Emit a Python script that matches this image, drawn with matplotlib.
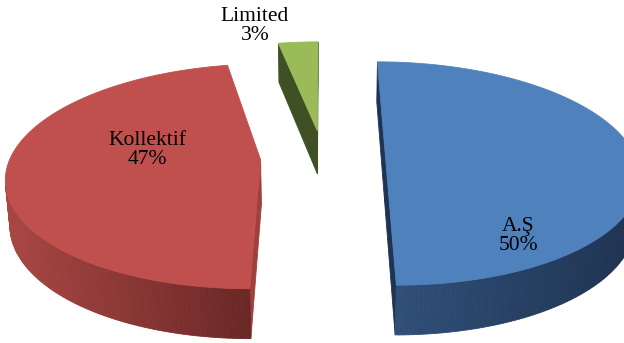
import numpy as np
import matplotlib.pyplot as plt
from matplotlib.patches import Polygon
from matplotlib.colors import to_rgb

# company types and their share of the total
labels = ['A.Ş', 'Kollektif', 'Limited']
shares = [50, 47, 3]

top_colors = ['#4f81bd', '#c0504d', '#9bbb59']
wall_light = ['#304f77', '#a94643', '#5a7031']
wall_dark = ['#1e3250', '#6a2826', '#3d4c22']
cut_colors = ['#1f3453', '#a0403d', '#3f5024']

# label anchors (pixels)
label_xy = [(518, 236), (147, 150), (255, 26)]

# simple perspective camera for the 3-D pie
CX, CY = 323, 157
FOCAL = 1520.0
DIST = 6.08
ELEV = np.radians(25.9)
THICK = 0.2
EXPLODE = 0.25

cos_e, sin_e = np.cos(ELEV), np.sin(ELEV)
camera = np.array([0.0, -DIST * cos_e, DIST * sin_e])


def project(X, Y, Z):
    v = Y * sin_e + Z * cos_e
    w = Y * cos_e - Z * sin_e + DIST
    return CX + FOCAL * X / w, CY - FOCAL * v / w


def facing(point, normal):
    return np.dot(camera - point, normal) > 0


def poly(ax, xs, ys, color, z):
    pts = np.column_stack([xs, ys])
    ax.add_patch(Polygon(pts, closed=True, facecolor=color, edgecolor=color,
                         linewidth=0.6, zorder=z))


fig = plt.figure(figsize=(6.24, 3.43), dpi=100)
ax = fig.add_axes([0, 0, 1, 1])
ax.set_xlim(0, 624)
ax.set_ylim(343, 0)
ax.axis('off')

fracs = np.array(shares, dtype=float) / sum(shares)
edges = np.concatenate([[0], np.cumsum(fracs)]) * 2 * np.pi

slices = []
for i in range(len(shares)):
    a0, a1 = edges[i], edges[i + 1]
    mid = (a0 + a1) / 2
    ox, oy = EXPLODE * np.sin(mid), EXPLODE * np.cos(mid)
    slices.append((i, a0, a1, ox, oy))

# far slices first
slices.sort(key=lambda s: -s[4])

z = 1
for i, a0, a1, ox, oy in slices:
    n = max(int(200 * (a1 - a0) / np.pi), 8)
    th = np.linspace(a0, a1, n)
    rx, ry = ox + np.sin(th), oy + np.cos(th)
    centre = np.array([ox, oy, 0.0])

    # radial cut faces
    for ang, sign in ((a0, -1), (a1, 1)):
        normal = sign * np.array([np.cos(ang), -np.sin(ang), 0.0])
        if facing(centre, normal):
            X = np.array([ox, ox + np.sin(ang), ox + np.sin(ang), ox])
            Y = np.array([oy, oy + np.cos(ang), oy + np.cos(ang), oy])
            Z = np.array([0, 0, -THICK, -THICK])
            px, py = project(X, Y, Z)
            poly(ax, px, py, cut_colors[i], z)
            z += 1

    # outer wall, shaded left to right
    segs = []
    for j in range(n - 1):
        tm = (th[j] + th[j + 1]) / 2
        normal = np.array([np.sin(tm), np.cos(tm), 0.0])
        p = np.array([ox + np.sin(tm), oy + np.cos(tm), 0.0])
        if facing(p, normal):
            X = np.array([rx[j], rx[j + 1], rx[j + 1], rx[j]])
            Y = np.array([ry[j], ry[j + 1], ry[j + 1], ry[j]])
            Z = np.array([0, 0, -THICK, -THICK])
            segs.append(project(X, Y, Z))
    if segs:
        xm = [s[0].mean() for s in segs]
        lo, hi = min(xm), max(xm)
        c0, c1 = np.array(to_rgb(wall_light[i])), np.array(to_rgb(wall_dark[i]))
        for (px, py), x in zip(segs, xm):
            t = (x - lo) / (hi - lo) if hi > lo else 0
            poly(ax, px, py, tuple(c0 * (1 - t) + c1 * t), z)
        z += 1

    # top face
    X = np.concatenate([[ox], rx])
    Y = np.concatenate([[oy], ry])
    px, py = project(X, Y, np.zeros_like(X))
    poly(ax, px, py, top_colors[i], z)
    z += 1

for name, val, (lx, ly) in zip(labels, shares, label_xy):
    ax.text(lx, ly, f'{name}\n{val}%', ha='center', va='center',
            fontsize=15.5, family='Liberation Serif', linespacing=1.0,
            color='black', zorder=z)

plt.savefig('out.png', dpi=100)
